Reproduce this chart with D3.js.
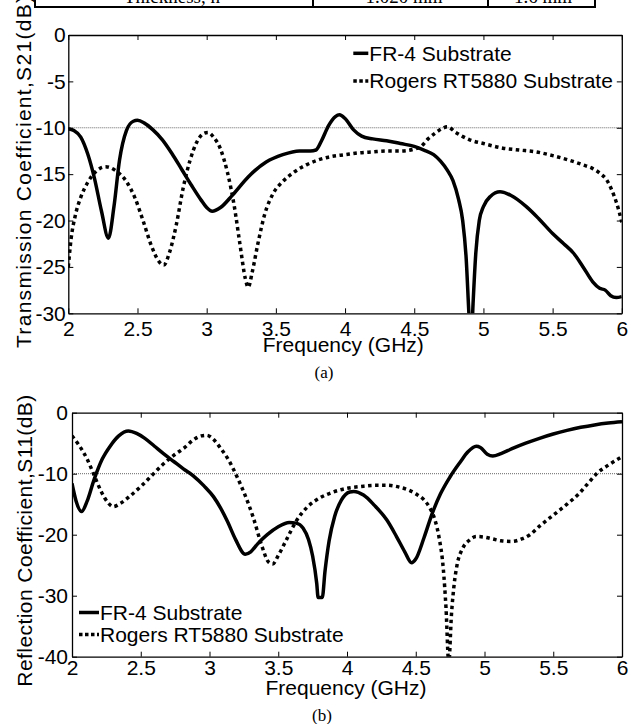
<!DOCTYPE html>
<html>
<head>
<meta charset="utf-8">
<script src="https://cdn.jsdelivr.net/npm/d3@7"></script>
<style>
  body { margin: 0; background: #fff; }
  svg { display: block; }
  text { font-family: "Liberation Sans", Arial, sans-serif; fill: #000; }
  .serif { font-family: "Liberation Serif", "Times New Roman", serif; }
</style>
</head>
<body>
<svg id="chart" width="640" height="724"></svg>
<script>
// ---- data: (a) transmission coefficient S21 ----
const s21Fr4Freq = [2.00, 2.04, 2.09, 2.14, 2.19, 2.24, 2.29, 2.33, 2.37, 2.42, 2.47, 2.50, 2.55, 2.61, 2.68, 2.75, 2.82, 2.89, 2.96, 3.00, 3.04, 3.10, 3.19, 3.30, 3.43, 3.55, 3.67, 3.75, 3.79, 3.83, 3.88, 3.93, 3.96, 4.00, 4.06, 4.12, 4.20, 4.30, 4.40, 4.50, 4.57, 4.64, 4.69, 4.74, 4.78, 4.82, 4.85, 4.875, 4.895, 4.91, 4.925, 4.945, 4.97, 5.00, 5.05, 5.12, 5.20, 5.31, 5.40, 5.50, 5.58, 5.65, 5.72, 5.79, 5.84, 5.88, 5.92, 5.96, 6.00];
const s21Fr4Db = [-10.1, -10.3, -11.0, -12.8, -15.5, -19.0, -21.9, -18.5, -13.5, -10.3, -9.3, -9.2, -9.5, -10.2, -11.3, -12.8, -14.5, -16.2, -17.8, -18.6, -19.0, -18.6, -17.2, -15.3, -13.7, -12.9, -12.5, -12.5, -12.4, -11.4, -9.8, -8.8, -8.6, -9.0, -10.2, -10.9, -11.2, -11.4, -11.7, -12.0, -12.4, -12.9, -13.6, -14.6, -15.7, -17.7, -20.0, -24.0, -30.0, -34.0, -29.0, -23.5, -20.0, -18.5, -17.4, -16.9, -17.3, -18.5, -19.8, -21.4, -22.5, -23.5, -25.0, -26.6, -27.3, -27.5, -28.1, -28.3, -28.2];

const s21RogFreq = [2.00, 2.02, 2.05, 2.09, 2.14, 2.20, 2.27, 2.34, 2.42, 2.48, 2.54, 2.60, 2.65, 2.69, 2.73, 2.78, 2.83, 2.88, 2.93, 2.98, 3.01, 3.05, 3.10, 3.15, 3.20, 3.24, 3.28, 3.30, 3.33, 3.37, 3.42, 3.48, 3.55, 3.63, 3.72, 3.80, 3.90, 4.00, 4.10, 4.20, 4.30, 4.40, 4.50, 4.55, 4.60, 4.65, 4.70, 4.74, 4.80, 4.90, 5.00, 5.14, 5.26, 5.38, 5.50, 5.62, 5.72, 5.79, 5.85, 5.89, 5.93, 5.96, 5.98, 6.00];
const s21RogDb = [-25.0, -22.0, -19.5, -17.5, -15.9, -14.7, -14.2, -14.6, -15.8, -17.5, -20.0, -22.7, -24.3, -24.8, -23.5, -20.5, -16.5, -13.5, -11.5, -10.6, -10.5, -11.0, -12.3, -14.8, -18.5, -22.5, -26.3, -27.2, -25.5, -22.5, -19.3, -17.1, -15.8, -14.8, -14.0, -13.5, -13.1, -12.9, -12.7, -12.6, -12.5, -12.5, -12.3, -12.0, -11.2, -10.6, -10.1, -9.9, -10.5, -11.3, -11.7, -12.2, -12.4, -12.6, -13.0, -13.5, -14.0, -14.4, -15.0, -15.6, -16.8, -18.0, -19.0, -20.2];

// ---- data: (b) reflection coefficient S11 ----
const s11Fr4Freq = [2.00, 2.03, 2.07, 2.11, 2.16, 2.22, 2.28, 2.34, 2.41, 2.47, 2.53, 2.60, 2.67, 2.74, 2.81, 2.88, 2.96, 3.03, 3.08, 3.13, 3.19, 3.26, 3.30, 3.35, 3.42, 3.50, 3.58, 3.63, 3.68, 3.72, 3.75, 3.78, 3.79, 3.82, 3.84, 3.87, 3.91, 3.96, 4.02, 4.05, 4.12, 4.20, 4.29, 4.36, 4.42, 4.47, 4.50, 4.56, 4.62, 4.68, 4.75, 4.82, 4.88, 4.94, 4.97, 5.02, 5.06, 5.12, 5.20, 5.30, 5.40, 5.50, 5.60, 5.70, 5.80, 5.90, 6.00];
const s11Fr4Db = [-11.6, -14.5, -16.2, -14.5, -11.0, -7.6, -5.4, -3.8, -3.0, -3.4, -4.2, -5.5, -6.8, -8.0, -9.2, -10.3, -12.0, -13.8, -15.6, -17.8, -20.8, -23.2, -22.8, -21.5, -20.0, -18.7, -18.0, -18.1, -18.9, -20.8, -23.5, -28.0, -30.3, -30.3, -26.0, -21.0, -17.0, -14.3, -13.0, -12.9, -13.5, -15.2, -17.6, -20.3, -22.8, -24.6, -24.0, -20.5, -16.5, -13.3, -10.5, -8.2, -6.4, -5.5, -5.7, -6.8, -7.1, -6.7, -5.9, -5.0, -4.2, -3.5, -2.9, -2.4, -2.0, -1.7, -1.5];

const s11RogFreq = [2.00, 2.05, 2.11, 2.16, 2.21, 2.26, 2.30, 2.35, 2.42, 2.50, 2.58, 2.66, 2.74, 2.82, 2.88, 2.94, 2.98, 3.03, 3.08, 3.14, 3.20, 3.26, 3.32, 3.38, 3.43, 3.46, 3.50, 3.56, 3.63, 3.71, 3.80, 3.90, 4.00, 4.10, 4.20, 4.29, 4.38, 4.45, 4.50, 4.56, 4.60, 4.64, 4.67, 4.70, 4.72, 4.74, 4.76, 4.78, 4.80, 4.84, 4.89, 4.94, 5.00, 5.06, 5.12, 5.20, 5.27, 5.33, 5.40, 5.50, 5.60, 5.69, 5.76, 5.82, 5.90, 6.00];
const s11RogDb = [-3.8, -5.3, -7.6, -10.2, -12.8, -14.7, -15.4, -14.9, -13.7, -12.1, -10.3, -8.5, -7.0, -5.7, -4.5, -3.8, -3.7, -4.4, -5.8, -7.8, -10.5, -13.6, -17.3, -21.8, -24.5, -24.8, -23.4, -20.8, -17.8, -15.5, -14.0, -13.0, -12.4, -12.1, -11.9, -11.9, -12.2, -12.7, -13.3, -14.3, -15.5, -17.6, -20.5, -25.5, -32.0, -41.0, -33.0, -28.0, -25.0, -22.3, -20.9, -20.3, -20.4, -20.7, -21.0, -21.1, -20.7, -20.0, -18.6, -16.8, -15.0, -13.2, -11.4, -9.9, -8.6, -7.2];

// ---- axis ticks and labels ----
const freqTicks = [2, 2.5, 3, 3.5, 4, 4.5, 5, 5.5, 6];
const s21Ticks = [-30, -25, -20, -15, -10, -5, 0];
const s11Ticks = [-40, -30, -20, -10, 0];
const seriesNames = ["FR-4 Substrate", "Rogers RT5880 Substrate"];
const tableCells = ["Thickness, h", "1.020 mm", "1.6 mm"];

const svg = d3.select("#chart");

// remains of the table above the figure
const tableLines = [35, 313, 488, 595];
svg.append("line").attr("x1", 35).attr("x2", 595).attr("y1", 7).attr("y2", 7)
  .attr("stroke", "#000").attr("stroke-width", 2);
tableLines.forEach(x => svg.append("line").attr("x1", x).attr("x2", x).attr("y1", 0).attr("y2", 8)
  .attr("stroke", "#000").attr("stroke-width", 2));
[172, 404, 543].forEach((x, i) => svg.append("text").attr("class", "serif")
  .attr("x", x).attr("y", 3).attr("text-anchor", "middle").attr("font-size", 19).text(tableCells[i]));

function drawPanel(p) {
  const g = svg.append("g").attr("transform", `translate(${p.left},${p.top})`);
  const x = d3.scaleLinear().domain([2, 6]).range([0, p.width]);
  const y = d3.scaleLinear().domain([p.yTicks[0], 0]).range([p.height, 0]);

  g.append("clipPath").attr("id", p.id).append("rect")
    .attr("width", p.width).attr("height", p.height);

  // -10 dB reference line
  g.append("line").attr("x1", 0).attr("x2", p.width)
    .attr("y1", y(-10)).attr("y2", y(-10))
    .attr("stroke", "#666").attr("stroke-width", 1).attr("stroke-dasharray", "1,1");

  const line = d3.line().x(d => x(d[0])).y(d => y(d[1])).curve(d3.curveMonotoneX);
  const plot = g.append("g").attr("clip-path", `url(#${p.id})`);
  plot.append("path").datum(d3.zip(p.fr4Freq, p.fr4Db))
    .attr("d", line).attr("fill", "none").attr("stroke", "#000")
    .attr("stroke-width", 3.5).attr("stroke-linejoin", "round");
  plot.append("path").datum(d3.zip(p.rogFreq, p.rogDb))
    .attr("d", line).attr("fill", "none").attr("stroke", "#000")
    .attr("stroke-width", 3.5).attr("stroke-dasharray", "3.5,3.5");

  // axes, ticks pointing inwards on all four sides
  const ax = g.append("g");
  ax.append("g").attr("transform", `translate(0,${p.height})`)
    .call(d3.axisBottom(x).tickValues(freqTicks).tickFormat(d3.format("")).tickSize(-5).tickSizeOuter(0).tickPadding(p.xPad));
  ax.append("g")
    .call(d3.axisLeft(y).tickValues(p.yTicks).tickFormat(d => d).tickSize(-5).tickSizeOuter(0).tickPadding(p.yPad));
  ax.append("g").call(d3.axisTop(x).tickValues(freqTicks).tickFormat("").tickSize(-5).tickSizeOuter(0));
  ax.append("g").attr("transform", `translate(${p.width},0)`)
    .call(d3.axisRight(y).tickValues(p.yTicks).tickFormat("").tickSize(-5).tickSizeOuter(0));
  ax.selectAll(".domain").attr("stroke-width", 1.3);
  ax.selectAll(".tick line").attr("stroke-width", 1);
  ax.selectAll("text").attr("font-family", "Liberation Sans, Arial, sans-serif").attr("font-size", 21);

  // axis titles
  g.append("text").attr("x", p.xLabel[0]).attr("y", p.xLabel[1])
    .attr("text-anchor", "middle").attr("font-size", 21).text("Frequency (GHz)");
  g.append("text").attr("transform", `translate(${p.yLabel[0]},${p.yLabel[1]}) rotate(-90)`)
    .attr("text-anchor", "middle").attr("font-size", 21)
    .attr("textLength", p.yLabel[2]).attr("lengthAdjust", "spacing").text(p.yTitle);

  // legend (no box)
  const lg = g.append("g").attr("transform", `translate(${p.legend[0]},${p.legend[1]})`);
  seriesNames.forEach((name, i) => {
    const yy = i * p.legend[3];
    lg.append("line").attr("x1", 0).attr("x2", p.legend[2]).attr("y1", yy).attr("y2", yy)
      .attr("stroke", "#000").attr("stroke-width", 3.5)
      .attr("stroke-dasharray", i ? "3.5,2.5" : null);
    lg.append("text").attr("x", p.legend[2] + 1).attr("y", yy + 7.5)
      .attr("font-size", 21).text(name);
  });

  svg.append("text").attr("class", "serif").attr("x", p.caption[0]).attr("y", p.caption[1])
    .attr("text-anchor", "middle").attr("font-size", 17).text(p.captionText);
}

drawPanel({
  id: "clipA", left: 68.3, top: 35, width: 553.5, height: 278.3,
  yTicks: s21Ticks, xPad: 8, yPad: 2.5,
  fr4Freq: s21Fr4Freq, fr4Db: s21Fr4Db, rogFreq: s21RogFreq, rogDb: s21RogDb,
  xLabel: [275, 317], yLabel: [-37, 137, 352],
  yTitle: "Transmission Coefficient,S21(dB)",
  legend: [285, 18.3, 15, 27.7],
  caption: [324, 378], captionText: "(a)"
});

drawPanel({
  id: "clipB", left: 72, top: 412.7, width: 550, height: 244,
  yTicks: s11Ticks, xPad: 3.5, yPad: 4,
  fr4Freq: s11Fr4Freq, fr4Db: s11Fr4Db, rogFreq: s11RogFreq, rogDb: s11RogDb,
  xLabel: [274, 282.3], yLabel: [-40.5, 128, 292],
  yTitle: "Reflection Coefficient,S11(dB)",
  legend: [7, 199.8, 20, 22],
  caption: [322, 721], captionText: "(b)"
});
</script>
</body>
</html>
